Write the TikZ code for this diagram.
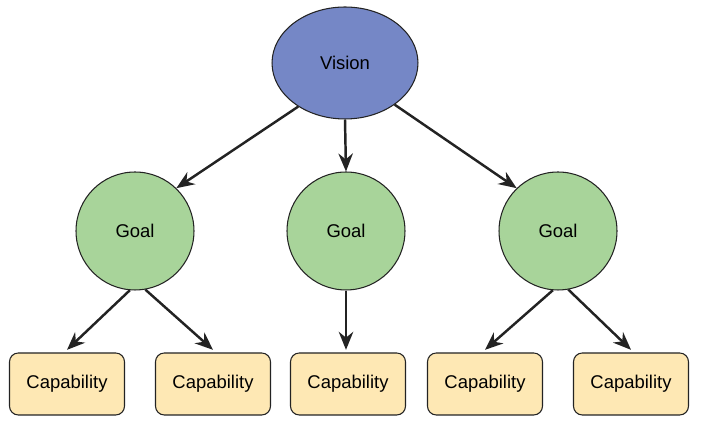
\documentclass[tikz,border=0pt]{standalone}
\usepackage{fontspec}
\setmainfont{Liberation Sans}
\usepackage{xcolor}
\usetikzlibrary{shapes.geometric, arrows.meta}

\definecolor{visionblue}{RGB}{117,135,198}
\definecolor{goalgreen}{RGB}{168,212,154}
\definecolor{capyellow}{RGB}{254,232,180}
\definecolor{linegray}{RGB}{35,35,35}

\begin{document}
\begin{tikzpicture}[
    x=0.02cm, y=-0.02cm,
    vision/.style={ellipse, draw=linegray, line width=0.6pt, fill=visionblue, minimum width=2.92cm, minimum height=2.24cm, font=\fontsize{10.5}{12}\selectfont},
    goal/.style={circle, draw=linegray, line width=0.6pt, fill=goalgreen, minimum size=2.36cm, inner sep=0pt, font=\fontsize{10.5}{12}\selectfont},
    capability/.style={rectangle, rounded corners=5pt, draw=linegray, line width=0.6pt, fill=capyellow, minimum width=2.3cm, minimum height=1.24cm, font=\fontsize{10.5}{12}\selectfont},
    arrow/.style={-{Stealth[length=3.6mm, width=2.9mm]}, line width=1.4pt, draw=linegray},
]
    \useasboundingbox (0,0) rectangle (704,431);

    \node[vision] (vision) at (345,63) {Vision};

    \node[goal] (goal1) at (135,231) {Goal};
    \node[goal] (goal2) at (346,231) {Goal};
    \node[goal] (goal3) at (558,231) {Goal};

    \node[capability] (cap1) at (67,384) {Capability};
    \node[capability] (cap2) at (213,384) {Capability};
    \node[capability] (cap3) at (348,384) {Capability};
    \node[capability] (cap4) at (485,384) {Capability};
    \node[capability] (cap5) at (631,384) {Capability};

    \draw[arrow] (vision.-137) -- (goal1.46);
    \draw[arrow] (vision.south) -- (goal2.north);
    \draw[arrow] (vision.-40) -- (goal3.134);

    \draw[arrow] (goal1.-95) -- ([yshift=1.5pt]cap1.north);
    \draw[arrow] (goal1.-80) -- ([yshift=1.5pt]cap2.north);
    \draw[arrow] (goal2.south) -- ([yshift=1.5pt]goal2.south |- cap3.north);
    \draw[arrow] (goal3.-95) -- ([yshift=1.5pt]cap4.north);
    \draw[arrow] (goal3.-80) -- ([yshift=1.5pt]cap5.north);
\end{tikzpicture}
\end{document}
